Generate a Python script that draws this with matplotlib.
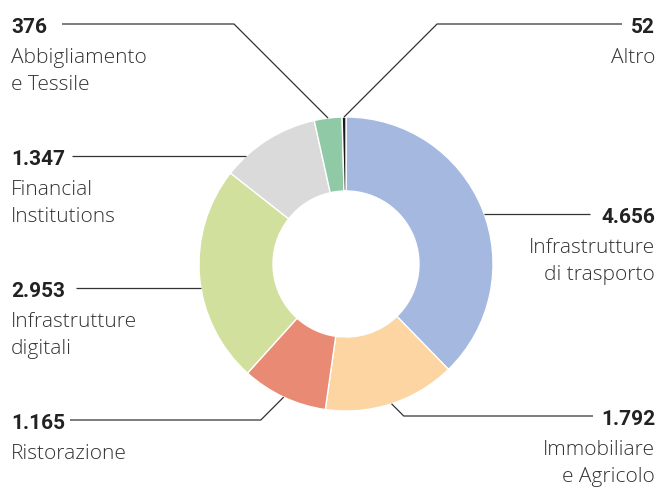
import numpy as np
import matplotlib
matplotlib.use("Agg")
import matplotlib.pyplot as plt

W, H = 659, 488

# data
sectors = ["Infrastrutture\ndi trasporto", "Immobiliare\ne Agricolo", "Ristorazione",
           "Infrastrutture\ndigitali", "Financial\nInstitutions", "Abbigliamento\ne Tessile", "Altro"]
values = [4656, 1792, 1165, 2953, 1347, 376, 52]
value_labels = ["4.656", "1.792", "1.165", "2.953", "1.347", "376", "52"]
colors = ["#a5b8e0", "#fcd5a3", "#e98a74", "#d1e09c", "#dadada", "#8fc9a5", "#1a1a1a"]

# layout (pixels from top-left): text x, number baseline, side, leader kind, outer line end
layout = {
    "Infrastrutture\ndi trasporto": (655, 223, "right", "flat", 590),
    "Immobiliare\ne Agricolo": (655, 425, "right", "elbow", 593),
    "Ristorazione": (11, 429, "left", "elbow", 70),
    "Infrastrutture\ndigitali": (11, 297, "left", "flat", 76),
    "Financial\nInstitutions": (11, 165, "left", "flat", 72),
    "Abbigliamento\ne Tessile": (11, 33, "left", "elbow", 62),
    "Altro": (655, 33, "right", "elbow", 622),
}

cx, cy, R, ring = 346, 264, 147, 74

plt.rcParams['font.family'] = ['Roboto', 'DejaVu Sans']
fig = plt.figure(figsize=(W / 100, H / 100), dpi=100)
ax = fig.add_axes([0, 0, 1, 1])

ax.pie(values, colors=colors, startangle=90, counterclock=False,
       center=(cx, H - cy), radius=R,
       wedgeprops=dict(width=ring, edgecolor="white", linewidth=1.0))
ax.set_xlim(0, W)
ax.set_ylim(0, H)
ax.set_aspect("equal")
ax.axis("off")

total = sum(values)
cum = np.cumsum([0] + values[:-1])
line_kw = dict(color="#333333", lw=0.9, solid_capstyle="butt")

for name, v, vl, c0 in zip(sectors, values, value_labels, cum):
    tx, base, side, kind, xend = layout[name]
    ly = base - 9
    if kind == "elbow":
        # leader starts at the middle of the wedge, goes out at 45 degrees
        ang = np.deg2rad((c0 + v / 2) / total * 360)
        ax_x = cx + R * np.sin(ang)
        ax_y = cy - R * np.cos(ang)
        dy = abs(ly - ax_y)
        ex = ax_x - dy if side == "left" else ax_x + dy
        xs = [ax_x, ex, xend]
        ys = [ax_y, ly, ly]
    else:
        dx = np.sqrt(R ** 2 - (ly - cy) ** 2)
        ax_x = cx - dx if side == "left" else cx + dx
        xs = [ax_x, xend]
        ys = [ly, ly]
    ax.plot(xs, [H - y for y in ys], **line_kw)

    ax.text(tx, H - base, vl, ha=side, va="baseline", fontsize=15,
            fontweight="bold", color="#222222")
    for i, line in enumerate(name.split("\n")):
        ax.text(tx, H - (base + 30 + 27 * i), line, ha=side, va="baseline",
                fontsize=15, fontweight="light", color="#333333",
                family=["Open Sans", "DejaVu Sans"])

fig.savefig("out.png", dpi=100)
